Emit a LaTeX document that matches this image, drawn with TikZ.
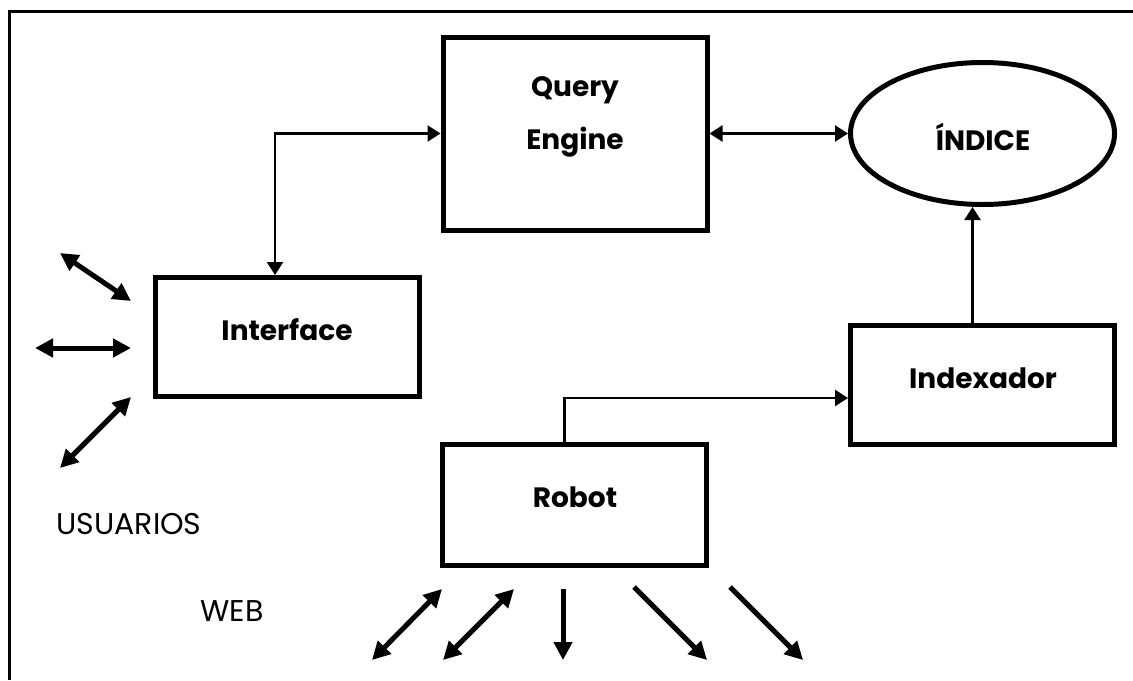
\documentclass[tikz,border=0pt]{standalone}
\usepackage{fontspec}
\setmainfont{Poppins}
\usetikzlibrary{arrows.meta,shapes.geometric,positioning}
\tikzset{
    boxnode/.style={
        draw,
        line width=2.5pt,
        minimum width=132pt,
        minimum height=59.5pt,
        inner sep=0pt
    },
    labeltext/.style={
        font=\fontsize{14}{26.5}\selectfont\bfseries,
        align=center,
        inner sep=0pt
    },
    plaintext/.style={
        font=\fontsize{15}{18}\selectfont,
        inner sep=0pt
    },
    % flechas finas entre bloques
    thinarrow/.style={
        line width=1.2pt,
        >={Triangle[length=6.5pt, width=8pt]}
    },
    % flechas gruesas sueltas
    thickarrow/.style={
        line width=2.5pt,
        >={Triangle[length=9pt, width=9pt]}
    }
}

\begin{document}
\begin{tikzpicture}[x=0.5pt,y=-0.5pt]
	\useasboundingbox (0,0) rectangle (1133,680);
	
	% marco
	\draw[line width=1.5pt] (9,680) -- (9,11) -- (1133,11);
	
	% bloques
	\node[boxnode, minimum height=96.5pt] (qe) at (575,133.5) {};
	\node[boxnode] (int) at (287,337) {};
	\node[boxnode, minimum height=60.5pt] (rob) at (574.5,505) {};
	\node[boxnode] (idx) at (982.5,385) {};
	\node[draw, ellipse, line width=2.5pt, minimum width=132pt, minimum height=71pt, inner sep=0pt] (ind) at (982.5,133.5) {};
	
	% textos
	\node[labeltext] (qetxt) at (575,116.5) {Query\\Engine};
	\node[labeltext] (inttxt) at (287,330) {Interface};
	\node[labeltext] (robtxt) at (575,497) {Robot};
	\node[labeltext] (idxtxt) at (983,378) {Indexador};
	\node[labeltext] (indtxt) at (983,137) {ÍNDICE};
	\node[plaintext] (usr) at (129,524) {USUARIOS};
	\node[plaintext] (web) at (232,611) {WEB};
	
	% conexiones
	\draw[thinarrow,<->] (qe.west) -| ([xshift=-6pt]int.north);
	\draw[thinarrow,<->] (qe.east) -- (ind.west);
	\draw[thinarrow,->] ([xshift=-5pt]idx.north) -- ([xshift=-5pt]ind.south);
	\draw[thinarrow,->] ([xshift=-5pt]rob.north) |- ([yshift=-6.5pt]idx.west);
	
	% extremos de las flechas sueltas
	\path
	(60,253) coordinate (u1a)
	(131,301) coordinate (u1b)
	(35,348) coordinate (u2a)
	(131,348) coordinate (u2b)
	(131,397) coordinate (u3a)
	(60,468) coordinate (u3b)
	
	(442,589) coordinate (w1a)
	(372,660) coordinate (w1b)
	(514,589) coordinate (w2a)
	(443,660) coordinate (w2b)
	(563,589) coordinate (w3a)
	(563,660) coordinate (w3b)
	(634,587) coordinate (w4a)
	(707,660) coordinate (w4b)
	(730,587) coordinate (w5a)
	(803,660) coordinate (w5b);
	
	% usuarios
	\draw[thickarrow,<->] (u1a) -- (u1b);
	\draw[thickarrow,<->] (u2a) -- (u2b);
	\draw[thickarrow,<->] (u3a) -- (u3b);
	
	% web
	\draw[thickarrow,<->] (w1a) -- (w1b);
	\draw[thickarrow,<->] (w2a) -- (w2b);
	\draw[thickarrow,->] (w3a) -- (w3b);
	\draw[thickarrow,->] (w4a) -- (w4b);
	\draw[thickarrow,->] (w5a) -- (w5b);
\end{tikzpicture}
\end{document}
